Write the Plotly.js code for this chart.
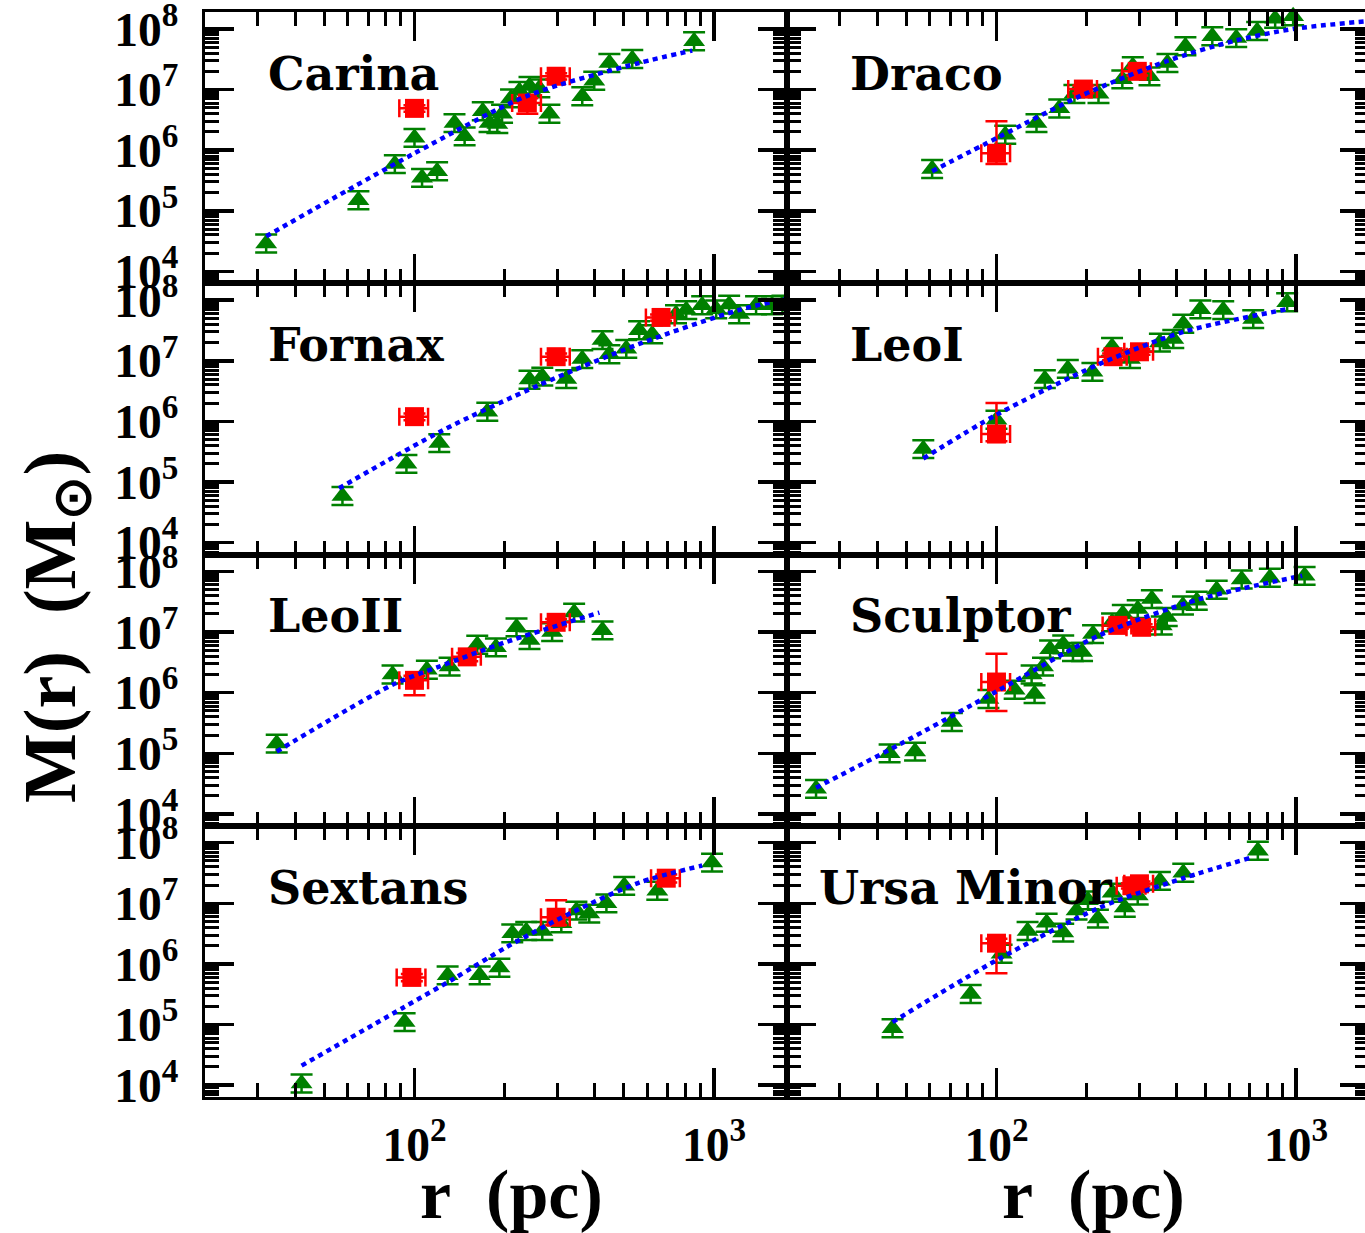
<!DOCTYPE html>
<html><head><meta charset="utf-8">
<script src="https://cdn.plot.ly/plotly-3.0.1.min.js"></script>
<style>html,body{margin:0;padding:0;overflow:hidden;background:#fff;width:1365px;height:1233px}</style>
</head><body><div id="chart" style="width:1380px;height:1233px"></div>
<script>
// ---------------- data (r in pc, M in solar masses) ----------------
const galaxyNames = ['Carina','Draco','Fornax','LeoI','LeoII','Sculptor','Sextans','Ursa Minor'];

const carinaTriR = [32, 65, 86, 100, 106, 119, 136, 147, 169, 178, 189, 196, 210, 224, 242, 261, 282, 363, 398, 447, 533, 857];
const carinaTriM = [2.9e4, 1.5e5, 5.9e5, 1.6e6, 3.5e5, 4.5e5, 2.8e6, 1.7e6, 4.4e6, 2.8e6, 2.7e6, 4.0e6, 7.2e6, 9.5e6, 1.15e7, 1.05e7, 4.0e6, 7.8e6, 1.4e7, 2.75e7, 3.2e7, 6.3e7];
const carinaSqR = [100, 238, 297];
const carinaSqM = [4.9e6, 6.0e6, 1.66e7];
const carinaSqUp = [6e5, 1.2e6, 2e6];
const carinaSqDn = [6e5, 2.0e6, 2e6];
const carinaLineR = [32, 100, 238, 562, 845];
const carinaLineM = [3.8e4, 8.9e5, 7.9e6, 2.75e7, 4.4e7];

const dracoTriR = [61, 107, 136, 162, 182, 219, 263, 285, 324, 372, 427, 525, 631, 741, 851, 977];
const dracoTriM = [4.9e5, 1.8e6, 2.8e6, 4.9e6, 8.5e6, 8.5e6, 1.48e7, 2.45e7, 1.66e7, 2.75e7, 5.2e7, 7.6e7, 7.1e7, 9.3e7, 1.48e8, 1.62e8];
const dracoSqR = [100, 195, 295];
const dracoSqM = [8.9e5, 1.02e7, 2.0e7];
const dracoSqUp = [2.1e6, 1.5e6, 3e6];
const dracoSqDn = [3e5, 1.5e6, 3e6];
const dracoLineR = [61, 103, 190, 370, 617, 977, 1740];
const dracoLineM = [4.5e5, 1.7e6, 7.8e6, 2.95e7, 6.3e7, 1.0e8, 1.35e8];

const fornaxTriR = [57.5, 94, 121, 175, 242, 267, 321, 363, 424, 447, 509, 562, 621, 746, 807, 912, 1016, 1122, 1211, 1380, 1560, 1690];
const fornaxTriM = [5.9e4, 2.0e5, 4.4e5, 1.45e6, 4.9e6, 5.5e6, 5.0e6, 1.07e7, 2.2e7, 1.29e7, 1.58e7, 3.2e7, 2.75e7, 5.9e7, 6.9e7, 8.3e7, 7.1e7, 8.5e7, 5.9e7, 8.3e7, 8.3e7, 8.5e7];
const fornaxSqR = [100, 297, 665];
const fornaxSqM = [1.2e6, 1.17e7, 5.2e7];
const fornaxSqUp = [1.5e5, 1.5e6, 6e6];
const fornaxSqDn = [1.5e5, 1.5e6, 6e6];
const fornaxLineR = [56, 124, 261, 562, 1211, 1740];
const fornaxLineM = [7.9e4, 7.1e5, 4.0e6, 1.9e7, 6.9e7, 1.05e8];

const leoITriR = [57, 100, 145, 173, 209, 243, 279, 351, 389, 420, 479, 571, 719, 933];
const leoITriM = [3.5e5, 1.07e6, 5.0e6, 7.4e6, 6.6e6, 1.7e7, 1.07e7, 2.0e7, 2.3e7, 4.1e7, 7.1e7, 6.9e7, 4.9e7, 9.3e7];
const leoISqR = [100, 245, 300];
const leoISqM = [6.2e5, 1.17e7, 1.41e7];
const leoISqUp = [1.4e6, 1.5e6, 1.5e6];
const leoISqDn = [1.5e5, 1.5e6, 1.5e6];
const leoILineR = [57, 100, 221, 420, 933];
const leoILineM = [2.45e5, 1.29e6, 8.9e6, 3.0e7, 7.1e7];

const leoIITriR = [34.7, 84.5, 110, 131, 162, 187, 219, 242, 288, 341, 424];
const leoIITriM = [1.45e5, 2.0e6, 2.4e6, 2.7e6, 6.2e6, 5.6e6, 1.2e7, 7.4e6, 1.0e7, 2.1e7, 1.07e7];
const leoIISqR = [100, 150, 297];
const leoIISqM = [1.6e6, 3.9e6, 1.45e7];
const leoIISqUp = [3e5, 6e5, 2e6];
const leoIISqDn = [6.9e5, 6e5, 2e6];
const leoIILineR = [34.7, 84.5, 121, 203, 414];
const leoIILineM = [1.07e5, 1.35e6, 2.7e6, 6.9e6, 2.1e7];

const sculptorTriR = [25, 44, 53.5, 71, 94, 115, 131, 134, 143, 151, 167, 180, 193, 210, 243, 264, 296, 330, 356, 370, 419, 466, 543, 658, 817, 1067];
const sculptorTriM = [2.6e4, 1.0e5, 1.07e5, 3.3e5, 7.9e5, 1.12e6, 2.0e6, 9.5e5, 2.7e6, 5.2e6, 6.3e6, 4.7e6, 4.7e6, 9.3e6, 1.45e7, 2.0e7, 2.4e7, 3.5e7, 1.29e7, 1.78e7, 2.75e7, 3.3e7, 5.0e7, 7.4e7, 7.9e7, 8.5e7];
const sculptorSqR = [100, 254, 305];
const sculptorSqM = [1.5e6, 1.29e7, 1.2e7];
const sculptorSqUp = [2.9e6, 1.5e6, 1.5e6];
const sculptorSqDn = [1.0e6, 1.5e6, 1.5e6];
const sculptorLineR = [25, 47.6, 100, 221, 476, 1047];
const sculptorLineM = [2.7e4, 1.41e5, 1.05e6, 8.9e6, 3.5e7, 8.5e7];

const sextansTriR = [42, 92.7, 129, 165, 192, 212, 236, 267, 309, 347, 383, 437, 501, 646, 984];
const sextansTriM = [1.07e4, 1.1e5, 6.5e5, 6.5e5, 8.7e5, 3.2e6, 3.5e6, 3.5e6, 4.7e6, 7.6e6, 6.8e6, 1.0e7, 1.95e7, 1.62e7, 4.7e7];
const sextansSqR = [98, 297, 692];
const sextansSqM = [6.0e5, 5.9e6, 2.6e7];
const sextansSqUp = [8e4, 5.3e6, 4e6];
const sextansSqDn = [8e4, 1.5e6, 4e6];
const sextansLineR = [42, 91, 136, 203, 336, 562, 912];
const sextansLineM = [2.1e4, 1.86e5, 5.8e5, 1.9e6, 7.1e6, 2.2e7, 4.2e7];

const umiTriR = [45, 82, 104, 127, 147, 167, 185, 202, 218, 244, 268, 296, 351, 420, 745];
const umiTriM = [8.7e4, 3.2e5, 1.48e6, 3.5e6, 4.8e6, 3.3e6, 7.6e6, 1.12e7, 5.6e6, 1.5e7, 8.5e6, 1.35e7, 2.35e7, 3.2e7, 7.4e7];
const umiSqR = [100, 283, 300];
const umiSqM = [2.2e6, 1.95e7, 2.1e7];
const umiSqUp = [4e5, 2e6, 2e6];
const umiSqDn = [1.5e6, 2e6, 2e6];
const umiLineR = [45, 100, 221, 420, 700];
const umiLineM = [1.1e5, 1.15e6, 8.5e6, 2.6e7, 5.6e7];

const xTitle = 'r\u00a0\u00a0(pc)';
const yTitle = 'M(r)\u00a0\u00a0(M<sub>\u2299</sub>)';

// ---------------- build ----------------
const panels = [
  [carinaTriR, carinaTriM, carinaSqR, carinaSqM, carinaSqUp, carinaSqDn, carinaLineR, carinaLineM],
  [dracoTriR, dracoTriM, dracoSqR, dracoSqM, dracoSqUp, dracoSqDn, dracoLineR, dracoLineM],
  [fornaxTriR, fornaxTriM, fornaxSqR, fornaxSqM, fornaxSqUp, fornaxSqDn, fornaxLineR, fornaxLineM],
  [leoITriR, leoITriM, leoISqR, leoISqM, leoISqUp, leoISqDn, leoILineR, leoILineM],
  [leoIITriR, leoIITriM, leoIISqR, leoIISqM, leoIISqUp, leoIISqDn, leoIILineR, leoIILineM],
  [sculptorTriR, sculptorTriM, sculptorSqR, sculptorSqM, sculptorSqUp, sculptorSqDn, sculptorLineR, sculptorLineM],
  [sextansTriR, sextansTriM, sextansSqR, sextansSqM, sextansSqUp, sextansSqDn, sextansLineR, sextansLineM],
  [umiTriR, umiTriM, umiSqR, umiSqM, umiSqUp, umiSqDn, umiLineR, umiLineM]
];

const GREEN = '#008000', RED = '#ff0000', BLUE = '#0000ff';
const tickFont = {family:'Liberation Serif', size:38, color:'#000', weight:'bold'};
const XR = [Math.log10(20), Math.log10(1750)];
const YR = [3.805, 8.28];

const data = [];
const layout = {
  width:1380, height:1233,
  margin:{l:205, r:11, t:12, b:136},
  paper_bgcolor:'#fff', plot_bgcolor:'#fff',
  showlegend:false,
  annotations:[]
};

function baseAxis(){
  return {
    type:'log', showline:true, linecolor:'#000', linewidth:3, mirror:'ticks',
    ticks:'inside', ticklen:29, tickwidth:3.5, tickcolor:'#000', dtick:1,
    exponentformat:'power', showgrid:false, zeroline:false, tickfont:tickFont,
    ticklabeloverflow:'allow',
    minor:{ticks:'inside', ticklen:14, tickwidth:3, tickcolor:'#000', dtick:'D1', showgrid:false},
    fixedrange:true
  };
}

panels.forEach((p, i) => {
  const row = Math.floor(i/2), col = i % 2;
  const n = i === 0 ? '' : String(i+1);
  const xa = 'x' + n, ya = 'y' + n;
  const xax = baseAxis();
  Object.assign(xax, {range:XR, domain: col === 0 ? [0, 0.5] : [0.5, 1], anchor: ya,
    showticklabels: row === 3, ticklabelstandoff: 6});
  const yax = baseAxis();
  Object.assign(yax, {range:YR, domain:[1 - (row+1)/4, 1 - row/4], anchor: xa,
    showticklabels: col === 0, ticklabelstandoff: 16});
  layout['xaxis' + n] = xax;
  layout['yaxis' + n] = yax;

  data.push({
    type:'scatter', mode:'markers', x:p[0], y:p[1], xaxis:xa, yaxis:ya, cliponaxis:false,
    marker:{symbol:'triangle-up', size:19, color:GREEN},
    error_y:{type:'percent', symmetric:false, value:40, valueminus:29, color:GREEN, thickness:2.5, width:11}
  });
  data.push({
    type:'scatter', mode:'markers', x:p[2], y:p[3], xaxis:xa, yaxis:ya, cliponaxis:false,
    marker:{symbol:'square', size:19, color:RED},
    error_y:{type:'data', symmetric:false, array:p[4], arrayminus:p[5], color:RED, thickness:2.5, width:11},
    error_x:{type:'percent', value:11, color:RED, thickness:2.5, width:9}
  });
  data.push({
    type:'scatter', mode:'lines', x:p[6], y:p[7], xaxis:xa, yaxis:ya, cliponaxis:false,
    line:{color:BLUE, width:4.5, dash:'5px,4.5px', shape:'spline', smoothing:0.8}
  });

  layout.annotations.push({
    text: galaxyNames[i], xref: xa + ' domain', yref: ya + ' domain',
    x: i === 7 ? 0.052 : 0.104, y: 0.772, xanchor:'left', yanchor:'middle', showarrow:false,
    font:{family:'DejaVu Serif', size:46, color:'#000', weight:'bold'}
  });
});

layout.annotations.push({
  text:xTitle, xref:'paper', yref:'paper', x:0.2637, y:-0.09, xanchor:'center', yanchor:'middle',
  showarrow:false, font:{family:'Liberation Serif', size:70, color:'#000', weight:'bold'}
});
layout.annotations.push({
  text:xTitle, xref:'paper', yref:'paper', x:0.763, y:-0.09, xanchor:'center', yanchor:'middle',
  showarrow:false, font:{family:'Liberation Serif', size:70, color:'#000', weight:'bold'}
});
layout.annotations.push({
  text:yTitle, xref:'paper', yref:'paper', x:-0.129, y:0.433, xanchor:'center', yanchor:'middle',
  textangle:-90, showarrow:false, font:{family:'Liberation Serif', size:74, color:'#000', weight:'bold'}
});

Plotly.newPlot('chart', data, layout, {staticPlot:true, displayModeBar:false});
</script>
</body></html>
